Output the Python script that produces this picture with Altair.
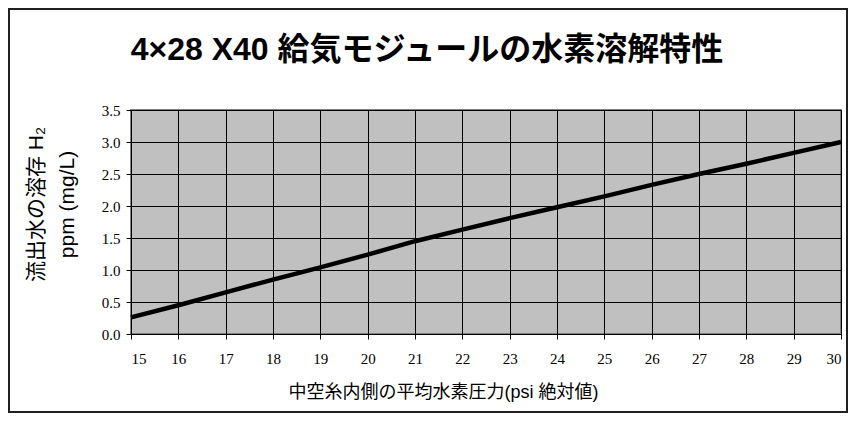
import altair as alt
import pandas as pd

# Data
pressure = [15, 16, 17, 18, 19, 20, 21, 22, 23, 24, 25, 26, 27, 28, 29, 30]
h2_ppm = [0.26, 0.45, 0.65, 0.85, 1.04, 1.24, 1.45, 1.63, 1.81, 1.98, 2.15, 2.33, 2.50, 2.66, 2.83, 3.00]
x_ticks = list(range(15, 31))
y_ticks = [0.0, 0.5, 1.0, 1.5, 2.0, 2.5, 3.0, 3.5]

title_text = "4×28 X40 給気モジュールの水素溶解特性"
x_title = "中空糸内側の平均水素圧力(psi 絶対値)"
y_title = ["流出水の溶存 H₂", "ppm (mg/L)"]

df = pd.DataFrame({"p": pressure, "h2": h2_ppm})

SANS = "Liberation Sans, Arial, Noto Sans CJK JP"
SERIF = "Liberation Serif, Times New Roman, serif"

W, H = 710, 224

line = alt.Chart(df).mark_line(color="black", strokeWidth=4.5).encode(
    x=alt.X(
        "p:Q",
        scale=alt.Scale(domain=[15, 30], nice=False),
        axis=alt.Axis(
            values=x_ticks,
            title=x_title,
            titleX=312,
            titleAlign="center",
            titlePadding=17,
            labelPadding=12,
        ),
    ),
    y=alt.Y(
        "h2:Q",
        scale=alt.Scale(domain=[0, 3.5], nice=False),
        axis=alt.Axis(
            values=y_ticks,
            format=".1f",
            title=y_title,
            titleFontSize=21,
            titlePadding=24,
            titleLineHeight=31,
            titleY=94,
            labelPadding=6,
        ),
    ),
)

border = alt.Chart(pd.DataFrame({"a": [0]})).mark_rect(
    fill=None, stroke="#202020", strokeWidth=2
).encode(
    x=alt.value(-122),
    x2=alt.value(W + 6),
    y=alt.value(-101),
    y2=alt.value(H + 78),
)

chart = (
    alt.layer(border, line)
    .properties(
        width=W,
        height=H,
        title=alt.TitleParams(
            text=title_text,
            font=SANS,
            fontSize=32,
            fontWeight="bold",
            color="black",
            anchor="middle",
            dx=-59,
            dy=59,
            offset=0,
        ),
        autosize=alt.AutoSizeParams(type="none"),
        padding={"left": 123, "top": 102, "right": 7, "bottom": 79},
    )
    .configure_view(fill="#C0C0C0", stroke="#808080", strokeWidth=2)
    .configure_axis(
        grid=True,
        gridColor="black",
        gridWidth=1,
        gridOpacity=1,
        domainColor="black",
        domainWidth=1,
        tickColor="black",
        tickSize=5,
        labelFont=SERIF,
        labelFontSize=15,
        labelColor="black",
        titleFont=SANS,
        titleFontSize=18,
        titleFontWeight="normal",
        titleColor="black",
    )
)

chart.save("out.html", embed_options={"renderer": "svg", "actions": False})
